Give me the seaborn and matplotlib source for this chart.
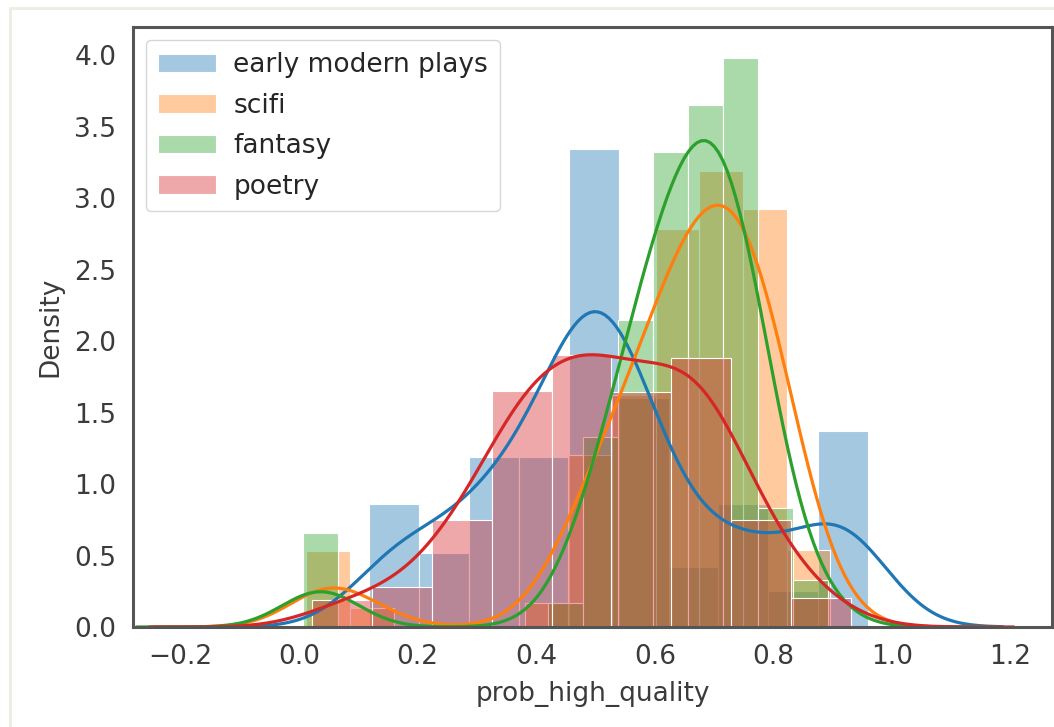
import numpy as np
import pandas as pd
import matplotlib
matplotlib.use("Agg")
import matplotlib.pyplot as plt
from matplotlib.lines import Line2D
import seaborn as sns

# ---- data ----
series_names = ["early modern plays", "scifi", "fantasy", "poetry"]

plays_bin_start = 0.118
plays_bin_width = 0.0842
plays_density = [0.86, 0.52, 1.19, 1.19, 3.34, 1.60, 0.42, 0.86, 0.25, 1.37]

scifi_bin_start = 0.012
scifi_bin_width = 0.0737
scifi_density = [0.53, 0.13, 0.0, 0.0, 0.0, 0.17, 1.20, 1.62, 2.78, 3.19, 2.92, 0.54]

fantasy_bin_start = 0.007
fantasy_bin_width = 0.059
fantasy_density = [0.66, 0.0, 0.0, 0.0, 0.0, 0.0, 0.0, 0.17, 1.33, 2.15, 3.32, 3.65, 3.98, 0.83, 0.33]

poetry_bin_start = 0.022
poetry_bin_width = 0.101
poetry_density = [0.19, 0.28, 0.75, 1.65, 1.90, 1.64, 1.88, 0.75, 0.20]

x_ticks = [-0.2, 0.0, 0.2, 0.4, 0.6, 0.8, 1.0, 1.2]
y_ticks = [0.0, 0.5, 1.0, 1.5, 2.0, 2.5, 3.0, 3.5, 4.0]

# ---- style ----
sns.set_theme(style="white")
plt.rcParams["font.family"] = ["DejaVu Sans"]
FS = 19
colors = sns.color_palette("tab10", 4)
kde_bw = [0.08, 0.068, 0.065, 0.075]

fig = plt.figure(figsize=(10.54, 7.27), dpi=100)
ax = fig.add_axes([133 / 1054, 1 - 627 / 727, (1052 - 133) / 1054, (627 - 27) / 727])

groups = [
    (plays_bin_start, plays_bin_width, plays_density),
    (scifi_bin_start, scifi_bin_width, scifi_density),
    (fantasy_bin_start, fantasy_bin_width, fantasy_density),
    (poetry_bin_start, poetry_bin_width, poetry_density),
]

for (start, width, dens), name, col, bw in zip(groups, series_names, colors, kde_bw):
    dens = np.asarray(dens, dtype=float)
    edges = start + width * np.arange(len(dens) + 1)
    centers = 0.5 * (edges[:-1] + edges[1:])
    df = pd.DataFrame({"x": centers, "w": dens})
    sns.histplot(data=df, x="x", weights="w", binwidth=width,
                 binrange=(edges[0], edges[-1]), stat="count",
                 color=col, alpha=0.4, edgecolor="white", linewidth=0.8,
                 label=name, ax=ax)
    std = np.sqrt(np.cov(centers, aweights=dens))
    sns.kdeplot(data=df, x="x", weights="w", bw_method=bw / std, cut=3,
                color=col, linewidth=2.3, ax=ax)

ax.set_xlim(-0.28, 1.27)
ax.set_ylim(0, 4.196)
ax.set_xticks(x_ticks)
ax.set_yticks(y_ticks)
ax.set_xticklabels([f"{t:.1f}".replace("-", "\u2212") for t in x_ticks])
ax.set_yticklabels([f"{t:.1f}" for t in y_ticks])
ax.tick_params(axis="both", labelsize=FS, length=0, pad=12, colors="#3b3b3b")
ax.set_xlabel("prob_high_quality", fontsize=FS, color="#3b3b3b", labelpad=8)
ax.set_ylabel("Density", fontsize=FS, color="#3b3b3b", labelpad=8)
for s in ax.spines.values():
    s.set_color("#555555")
    s.set_linewidth(2.2)

ax.legend(loc="upper left", fontsize=FS, frameon=True, borderpad=0.45,
          handlelength=2.2, handletextpad=0.65, labelspacing=0.55,
          bbox_to_anchor=(0.0, 1.0))

# faint frame of the original screenshot
fig.add_artist(Line2D([10 / 1054, 10 / 1054], [0, 1 - 8 / 727], color="#eeede2", lw=2, transform=fig.transFigure))
fig.add_artist(Line2D([10 / 1054, 1], [1 - 8 / 727, 1 - 8 / 727], color="#eeede2", lw=2, transform=fig.transFigure))

fig.savefig("out.png", dpi=100)
